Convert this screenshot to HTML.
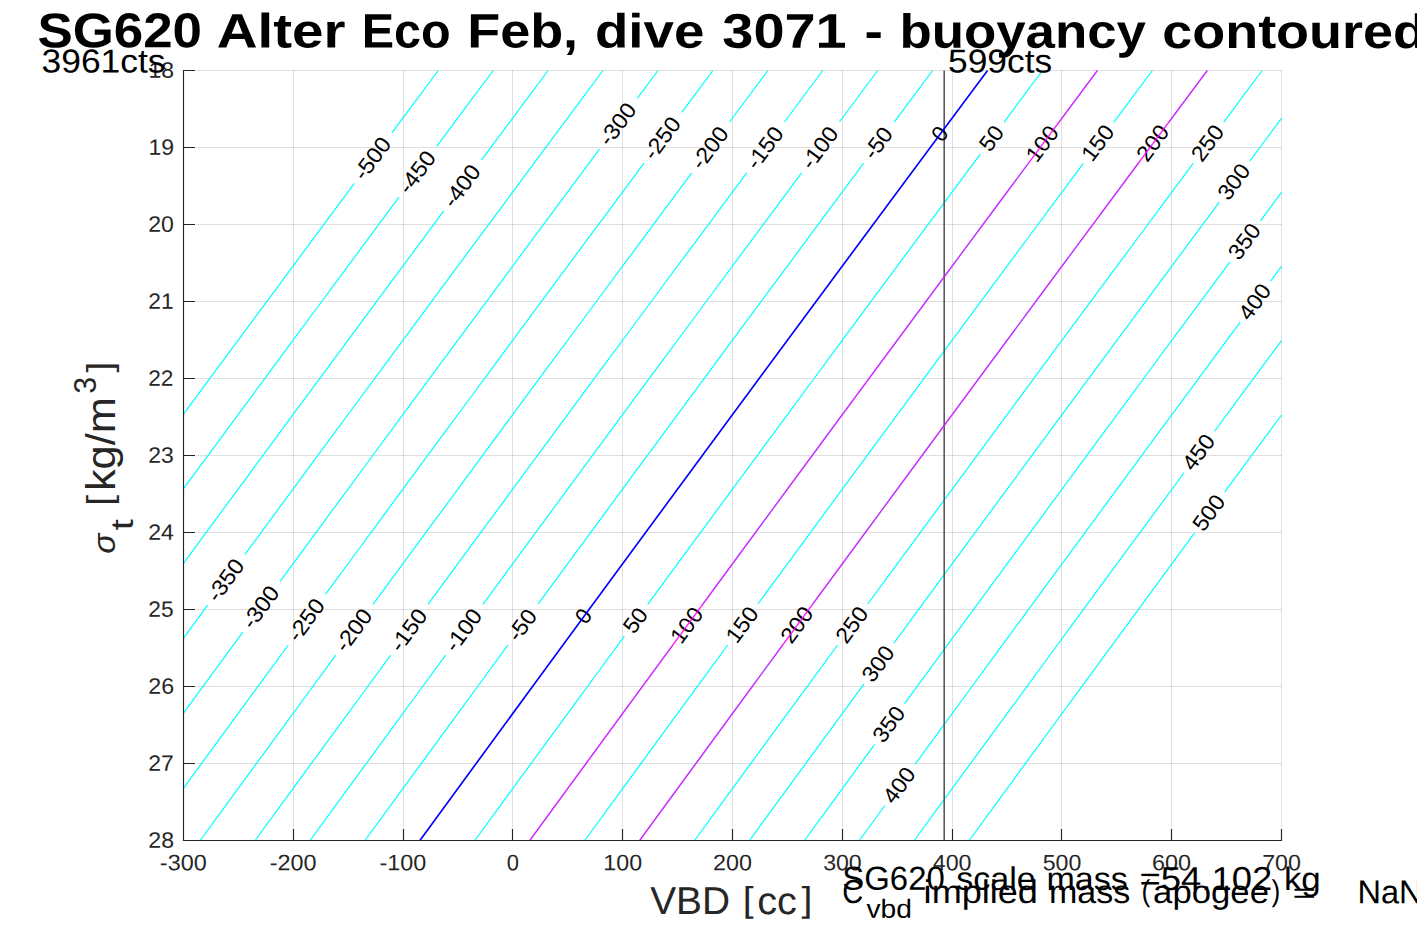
<!DOCTYPE html>
<html><head><meta charset="utf-8"><title>SG620 buoyancy contoured</title>
<style>html,body{margin:0;padding:0;background:#fff;}body{width:1417px;height:945px;overflow:hidden;font-family:"Liberation Sans", sans-serif;}svg{display:block;}</style>
</head><body>
<svg width="1417" height="945" viewBox="0 0 1417 945" font-family='"Liberation Sans", sans-serif'>
<rect width="1417" height="945" fill="#fff"/>
<path d="M293.5 70.0V828.5M403.5 70.0V828.5M512.5 70.0V828.5M622.5 70.0V828.5M732.5 70.0V828.5M842.5 70.0V828.5M952.5 70.0V828.5M1061.5 70.0V828.5M1171.5 70.0V828.5M1281.5 70.0V828.5" stroke="#262626" stroke-opacity="0.15" stroke-width="1" fill="none"/>
<path d="M196.0 70.5H1282.0M196.0 147.5H1282.0M196.0 224.5H1282.0M196.0 301.5H1282.0M196.0 378.5H1282.0M196.0 455.5H1282.0M196.0 532.5H1282.0M196.0 609.5H1282.0M196.0 686.5H1282.0M196.0 763.5H1282.0" stroke="#262626" stroke-opacity="0.15" stroke-width="1" fill="none"/>
<path d="M438.25 70.50L415.14 101.55L392.05 132.60M354.32 183.40L325.78 221.87L297.27 260.33L268.78 298.80L240.33 337.27L211.90 375.73L183.50 414.20M493.18 70.50L464.94 108.45L436.73 146.40M399.01 197.20L371.98 233.64L344.98 270.08L318.01 306.51L291.05 342.95L264.13 379.39L237.23 415.83L210.35 452.27L183.50 488.71M548.11 70.50L525.88 100.37L503.67 130.23L481.48 160.10M443.77 210.90L414.74 250.06L385.73 289.22L356.76 328.38L327.81 367.55L298.89 406.71L270.00 445.87L241.14 485.03L212.30 524.19L183.50 563.35M603.04 70.50L575.34 107.72L547.67 144.95L520.02 182.17L492.41 219.39L464.81 256.62L437.25 293.84L409.71 331.06L382.19 368.28L354.71 405.51L327.24 442.73L299.81 479.95L272.40 517.18L245.01 554.40M207.68 605.20L183.50 638.14M657.97 70.50L637.28 98.30M599.51 149.10L570.33 188.40L541.18 227.70L512.05 267.00L482.95 306.30L453.89 345.60L424.85 384.90L395.84 424.20L366.86 463.50L337.91 502.80L308.99 542.10L280.10 581.40M242.79 632.20L223.01 659.16L203.25 686.11L183.50 713.07M712.90 70.50L697.34 91.40L681.80 112.30M644.04 163.10L614.95 202.29L585.89 241.48L556.85 280.67L527.85 319.86L498.87 359.05L469.93 398.25L441.01 437.44L412.12 476.63L383.26 515.82L354.42 555.01L325.62 594.20M288.33 645.00L262.09 680.79L235.87 716.57L209.67 752.36L183.50 788.15M767.83 70.50L748.66 96.25L729.51 122.00M691.77 172.80L662.65 212.04L633.56 251.27L604.50 290.51L575.47 329.75L546.47 368.98L517.49 408.22L488.55 447.45L459.63 486.69L430.75 525.93L401.89 565.16L373.06 604.40M335.78 655.20L308.61 692.26L281.46 729.32L254.34 766.38L227.25 803.44L200.18 840.50M822.76 70.50L803.59 96.25L784.44 122.00M746.70 172.80L717.58 212.04L688.49 251.27L659.43 290.51L630.40 329.75L601.40 368.98L572.42 408.22L543.48 447.45L514.56 486.69L485.68 525.93L456.82 565.16L427.99 604.40M390.71 655.20L363.54 692.26L336.39 729.32L309.27 766.38L282.18 803.44L255.11 840.50M877.69 70.50L858.52 96.25L839.37 122.00M801.63 172.80L772.51 212.04L743.42 251.27L714.36 290.51L685.33 329.75L656.33 368.98L627.35 408.22L598.41 447.45L569.49 486.69L540.61 525.93L511.75 565.16L482.92 604.40M445.64 655.20L418.47 692.26L391.32 729.32L364.20 766.38L337.11 803.44L310.04 840.50M932.62 70.50L913.38 96.35L894.15 122.20M863.69 163.20L836.41 199.95L809.15 236.70L781.92 273.45L754.72 310.20L727.54 346.95L700.39 383.70L673.26 420.45L646.16 457.20L619.08 493.95L592.03 530.70L565.00 567.45L538.00 604.20M507.90 645.20L479.26 684.26L450.65 723.32L422.06 762.38L393.50 801.44L364.97 840.50M1042.48 70.50L1023.20 96.40L1003.94 122.30M980.31 154.10L952.45 191.62L924.61 229.15L896.80 266.67L869.02 304.20L841.26 341.73L813.53 379.25L785.83 416.77L758.15 454.30L730.50 491.82L702.88 529.35L675.28 566.87L647.71 604.40M624.36 636.20L599.39 670.25L574.44 704.30L549.50 738.35L524.59 772.40L499.70 806.45L474.83 840.50M1097.41 70.50L1077.87 96.75L1058.35 123.00M1027.88 164.00L1000.64 200.71L973.41 237.42L946.21 274.12L919.04 310.83L891.89 347.54L864.77 384.25L837.67 420.96L810.60 457.67L783.55 494.38L756.53 531.08L729.54 567.79L702.57 604.50M672.47 645.50L643.87 684.50L615.30 723.50L586.76 762.50L558.25 801.50L529.76 840.50M1152.34 70.50L1133.06 96.40L1113.80 122.30M1083.33 163.30L1056.07 200.03L1028.84 236.75L1001.62 273.48L974.44 310.20L947.28 346.93L920.14 383.65L893.03 420.38L865.95 457.10L838.89 493.82L811.86 530.55L784.85 567.27L757.86 604.00M727.77 645.00L699.10 684.10L670.45 723.20L641.84 762.30L613.25 801.40L584.69 840.50M1207.27 70.50L1187.99 96.40L1168.73 122.30M1138.26 163.30L1111.00 200.03L1083.77 236.75L1056.55 273.48L1029.37 310.20L1002.21 346.93L975.07 383.65L947.96 420.38L920.88 457.10L893.82 493.82L866.79 530.55L839.78 567.27L812.79 604.00M782.70 645.00L754.03 684.10L725.38 723.20L696.77 762.30L668.18 801.40L639.62 840.50M1262.20 70.50L1242.92 96.40L1223.66 122.30M1193.19 163.30L1165.93 200.03L1138.70 236.75L1111.48 273.48L1084.30 310.20L1057.14 346.93L1030.00 383.65L1002.89 420.38L975.81 457.10L948.75 493.82L921.72 530.55L894.71 567.27L867.72 604.00M837.63 645.00L808.96 684.10L780.31 723.20L751.70 762.30L723.11 801.40L694.55 840.50M1281.50 118.39L1265.62 139.74L1249.76 161.10M1219.32 202.10L1192.06 238.86L1164.83 275.62L1137.62 312.38L1110.44 349.13L1083.28 385.89L1056.14 422.65L1029.04 459.41L1001.96 496.17L974.90 532.92L947.87 569.68L920.86 606.44L893.88 643.20M863.81 684.20L835.19 723.28L806.59 762.35L778.02 801.42L749.48 840.50M1281.50 192.33L1260.38 220.80M1229.99 261.80L1202.73 298.62L1175.49 335.43L1148.28 372.25L1121.10 409.07L1093.94 445.88L1066.80 482.70L1039.69 519.52L1012.61 556.33L985.55 593.15L958.52 629.97L931.51 666.78L904.53 703.60M874.51 744.60L851.13 776.57L827.76 808.53L804.41 840.50M1281.50 266.42L1270.63 281.10M1240.29 322.10L1213.03 358.97L1185.80 395.83L1158.59 432.70L1131.41 469.57L1104.26 506.43L1077.13 543.30L1050.02 580.17L1022.94 617.03L995.89 653.90L968.86 690.77L941.86 727.63L914.88 764.50M884.91 805.50L859.34 840.50M1281.50 340.65L1259.12 370.93L1236.75 401.22L1214.41 431.50M1184.18 472.50L1157.08 509.30L1130.00 546.10L1102.94 582.90L1075.92 619.70L1048.91 656.50L1021.93 693.30L994.98 730.10L968.05 766.90L941.15 803.70L914.27 840.50M1281.50 415.01L1253.03 453.61L1224.60 492.20M1194.42 533.20L1166.17 571.61L1137.95 610.03L1109.76 648.44L1081.59 686.85L1053.45 725.26L1025.34 763.67L997.26 802.09L969.20 840.50" stroke="#00ffff" stroke-width="1.2" fill="none"/>
<path d="M944.2 70.50V840.50" stroke="#5a5a5a" stroke-width="1.6" fill="none"/>
<text transform="translate(378.47,162.72) rotate(-53.40)" x="-23.66" y="0.00" font-size="22.23" fill="#000" textLength="46.83" lengthAdjust="spacingAndGlyphs">-500</text>
<text transform="translate(423.15,176.52) rotate(-53.41)" x="-23.66" y="0.00" font-size="22.17" fill="#000" textLength="46.83" lengthAdjust="spacingAndGlyphs">-450</text>
<text transform="translate(467.91,190.22) rotate(-53.41)" x="-23.66" y="0.00" font-size="22.19" fill="#000" textLength="46.83" lengthAdjust="spacingAndGlyphs">-400</text>
<text transform="translate(231.65,584.49) rotate(-53.69)" x="-23.66" y="0.00" font-size="22.23" fill="#000" textLength="46.83" lengthAdjust="spacingAndGlyphs">-350</text>
<text transform="translate(623.67,128.42) rotate(-53.37)" x="-23.66" y="0.00" font-size="22.25" fill="#000" textLength="46.83" lengthAdjust="spacingAndGlyphs">-300</text>
<text transform="translate(266.75,611.49) rotate(-53.71)" x="-23.66" y="0.00" font-size="22.25" fill="#000" textLength="46.83" lengthAdjust="spacingAndGlyphs">-300</text>
<text transform="translate(668.20,142.42) rotate(-53.38)" x="-23.66" y="0.00" font-size="22.19" fill="#000" textLength="46.83" lengthAdjust="spacingAndGlyphs">-250</text>
<text transform="translate(312.28,624.29) rotate(-53.72)" x="-23.66" y="0.00" font-size="22.19" fill="#000" textLength="46.83" lengthAdjust="spacingAndGlyphs">-250</text>
<text transform="translate(715.92,152.12) rotate(-53.39)" x="-23.66" y="0.00" font-size="22.22" fill="#000" textLength="46.83" lengthAdjust="spacingAndGlyphs">-200</text>
<text transform="translate(359.72,634.49) rotate(-53.72)" x="-23.66" y="0.00" font-size="22.22" fill="#000" textLength="46.83" lengthAdjust="spacingAndGlyphs">-200</text>
<text transform="translate(770.85,152.12) rotate(-53.39)" x="-23.66" y="0.00" font-size="22.17" fill="#000" textLength="46.83" lengthAdjust="spacingAndGlyphs">-150</text>
<text transform="translate(414.65,634.49) rotate(-53.72)" x="-23.66" y="0.00" font-size="22.17" fill="#000" textLength="46.83" lengthAdjust="spacingAndGlyphs">-150</text>
<text transform="translate(825.78,152.12) rotate(-53.39)" x="-23.66" y="0.00" font-size="22.19" fill="#000" textLength="46.83" lengthAdjust="spacingAndGlyphs">-100</text>
<text transform="translate(469.58,634.49) rotate(-53.72)" x="-23.66" y="0.00" font-size="22.19" fill="#000" textLength="46.83" lengthAdjust="spacingAndGlyphs">-100</text>
<text transform="translate(884.20,147.42) rotate(-53.39)" x="-17.03" y="0.00" font-size="22.22" fill="#000" textLength="33.56" lengthAdjust="spacingAndGlyphs">-50</text>
<text transform="translate(528.26,629.39) rotate(-53.72)" x="-17.03" y="0.00" font-size="22.22" fill="#000" textLength="33.56" lengthAdjust="spacingAndGlyphs">-50</text>
<text transform="translate(945.90,138.32) rotate(-53.38)" x="-6.11" y="0.00" font-size="22.25" fill="#000" textLength="12.21" lengthAdjust="spacingAndGlyphs">0</text>
<text transform="translate(589.65,620.59) rotate(-53.71)" x="-6.11" y="0.00" font-size="22.25" fill="#000" textLength="12.21" lengthAdjust="spacingAndGlyphs">0</text>
<text transform="translate(997.41,142.92) rotate(-53.38)" x="-12.56" y="0.00" font-size="22.22" fill="#000" textLength="25.32" lengthAdjust="spacingAndGlyphs">50</text>
<text transform="translate(641.35,624.99) rotate(-53.72)" x="-12.56" y="0.00" font-size="22.22" fill="#000" textLength="25.32" lengthAdjust="spacingAndGlyphs">50</text>
<text transform="translate(1048.40,148.22) rotate(-53.39)" x="-19.36" y="0.00" font-size="22.19" fill="#000" textLength="38.76" lengthAdjust="spacingAndGlyphs">100</text>
<text transform="translate(692.83,629.69) rotate(-53.72)" x="-19.36" y="0.00" font-size="22.19" fill="#000" textLength="38.76" lengthAdjust="spacingAndGlyphs">100</text>
<text transform="translate(1103.85,147.52) rotate(-53.39)" x="-19.36" y="0.00" font-size="22.17" fill="#000" textLength="38.76" lengthAdjust="spacingAndGlyphs">150</text>
<text transform="translate(748.12,629.19) rotate(-53.72)" x="-19.36" y="0.00" font-size="22.17" fill="#000" textLength="38.76" lengthAdjust="spacingAndGlyphs">150</text>
<text transform="translate(1158.78,147.52) rotate(-53.39)" x="-19.53" y="0.00" font-size="22.22" fill="#000" textLength="38.93" lengthAdjust="spacingAndGlyphs">200</text>
<text transform="translate(803.05,629.19) rotate(-53.72)" x="-19.53" y="0.00" font-size="22.22" fill="#000" textLength="38.93" lengthAdjust="spacingAndGlyphs">200</text>
<text transform="translate(1213.71,147.52) rotate(-53.39)" x="-19.53" y="0.00" font-size="22.19" fill="#000" textLength="38.93" lengthAdjust="spacingAndGlyphs">250</text>
<text transform="translate(857.98,629.19) rotate(-53.72)" x="-19.53" y="0.00" font-size="22.19" fill="#000" textLength="38.93" lengthAdjust="spacingAndGlyphs">250</text>
<text transform="translate(1239.82,186.32) rotate(-53.41)" x="-19.17" y="0.00" font-size="22.25" fill="#000" textLength="38.57" lengthAdjust="spacingAndGlyphs">300</text>
<text transform="translate(884.16,668.38) rotate(-53.75)" x="-19.17" y="0.00" font-size="22.25" fill="#000" textLength="38.57" lengthAdjust="spacingAndGlyphs">300</text>
<text transform="translate(1250.47,246.01) rotate(-53.45)" x="-19.17" y="0.00" font-size="22.23" fill="#000" textLength="38.57" lengthAdjust="spacingAndGlyphs">350</text>
<text transform="translate(894.83,728.78) rotate(-53.79)" x="-19.17" y="0.00" font-size="22.23" fill="#000" textLength="38.57" lengthAdjust="spacingAndGlyphs">350</text>
<text transform="translate(1260.75,306.31) rotate(-53.50)" x="-19.40" y="0.00" font-size="22.19" fill="#000" textLength="38.80" lengthAdjust="spacingAndGlyphs">400</text>
<text transform="translate(905.21,789.67) rotate(-53.83)" x="-19.40" y="0.00" font-size="22.19" fill="#000" textLength="38.80" lengthAdjust="spacingAndGlyphs">400</text>
<text transform="translate(1204.59,456.70) rotate(-53.60)" x="-19.40" y="0.00" font-size="22.17" fill="#000" textLength="38.80" lengthAdjust="spacingAndGlyphs">450</text>
<text transform="translate(1214.81,517.39) rotate(-53.64)" x="-19.20" y="0.00" font-size="22.23" fill="#000" textLength="38.60" lengthAdjust="spacingAndGlyphs">500</text>
<path d="M1097.41 70.50L1068.76 109.00L1040.14 147.50L1011.55 186.00L982.99 224.50L954.45 263.00L925.95 301.50L897.47 340.00L869.02 378.50L840.59 417.00L812.20 455.50L783.83 494.00L755.49 532.50L727.18 571.00L698.89 609.50L670.64 648.00L642.41 686.50L614.21 725.00L586.03 763.50L557.88 802.00L529.76 840.50" stroke="#ff00ff" stroke-width="1.3" stroke-opacity="0.88" fill="none"/>
<path d="M1207.27 70.50L1178.62 109.00L1150.00 147.50L1121.41 186.00L1092.85 224.50L1064.31 263.00L1035.81 301.50L1007.33 340.00L978.88 378.50L950.45 417.00L922.06 455.50L893.69 494.00L865.35 532.50L837.04 571.00L808.75 609.50L780.50 648.00L752.27 686.50L724.07 725.00L695.89 763.50L667.74 802.00L639.62 840.50" stroke="#ff00ff" stroke-width="1.3" stroke-opacity="0.88" fill="none"/>
<path d="M987.55 70.50L958.90 109.00L930.28 147.50L901.69 186.00L873.13 224.50L844.59 263.00L816.09 301.50L787.61 340.00L759.16 378.50L730.73 417.00L702.34 455.50L673.97 494.00L645.63 532.50L617.32 571.00L589.03 609.50L560.78 648.00L532.55 686.50L504.35 725.00L476.17 763.50L448.02 802.00L419.90 840.50" stroke="#0000ff" stroke-width="1.65" stroke-opacity="1" fill="none"/>
<path d="M183.50 70.00V841.00M183.00 840.50H1282.00M183.5 840.5v-11.5M183.5 70.5h11.5M293.5 840.5v-11.5M183.5 147.5h11.5M403.5 840.5v-11.5M183.5 224.5h11.5M512.5 840.5v-11.5M183.5 301.5h11.5M622.5 840.5v-11.5M183.5 378.5h11.5M732.5 840.5v-11.5M183.5 455.5h11.5M842.5 840.5v-11.5M183.5 532.5h11.5M952.5 840.5v-11.5M183.5 609.5h11.5M1061.5 840.5v-11.5M183.5 686.5h11.5M1171.5 840.5v-11.5M183.5 763.5h11.5M1281.5 840.5v-11.5M183.5 840.5h11.5" stroke="#262626" stroke-width="1.15" fill="none"/>
<text transform="translate(183.50,870.20) rotate(0.03)" x="-23.66" y="0.00" font-size="22.25" fill="#262626" textLength="46.83" lengthAdjust="spacingAndGlyphs">-300</text>
<text transform="translate(174.40,77.80) rotate(0.03)" x="-25.97" y="0.00" font-size="22.16" fill="#262626" textLength="25.54" lengthAdjust="spacingAndGlyphs">18</text>
<text transform="translate(293.30,870.20) rotate(0.03)" x="-23.66" y="0.00" font-size="22.22" fill="#262626" textLength="46.83" lengthAdjust="spacingAndGlyphs">-200</text>
<text transform="translate(174.40,154.80) rotate(0.03)" x="-25.97" y="0.00" font-size="22.16" fill="#262626" textLength="25.59" lengthAdjust="spacingAndGlyphs">19</text>
<text transform="translate(403.10,870.20) rotate(0.03)" x="-23.66" y="0.00" font-size="22.19" fill="#262626" textLength="46.83" lengthAdjust="spacingAndGlyphs">-100</text>
<text transform="translate(174.40,231.80) rotate(0.03)" x="-26.14" y="0.00" font-size="22.20" fill="#262626" textLength="25.66" lengthAdjust="spacingAndGlyphs">20</text>
<text transform="translate(512.90,870.20) rotate(0.03)" x="-6.11" y="0.00" font-size="22.25" fill="#262626" textLength="12.21" lengthAdjust="spacingAndGlyphs">0</text>
<text transform="translate(174.40,308.80) rotate(0.03)" x="-26.12" y="0.00" font-size="22.11" fill="#262626" textLength="25.31" lengthAdjust="spacingAndGlyphs">21</text>
<text transform="translate(622.70,870.20) rotate(0.03)" x="-19.36" y="0.00" font-size="22.19" fill="#262626" textLength="38.76" lengthAdjust="spacingAndGlyphs">100</text>
<text transform="translate(174.40,385.80) rotate(0.03)" x="-26.12" y="0.00" font-size="22.14" fill="#262626" textLength="25.17" lengthAdjust="spacingAndGlyphs">22</text>
<text transform="translate(732.50,870.20) rotate(0.03)" x="-19.53" y="0.00" font-size="22.22" fill="#262626" textLength="38.93" lengthAdjust="spacingAndGlyphs">200</text>
<text transform="translate(174.40,462.80) rotate(0.03)" x="-26.13" y="0.00" font-size="22.20" fill="#262626" textLength="25.47" lengthAdjust="spacingAndGlyphs">23</text>
<text transform="translate(842.30,870.20) rotate(0.03)" x="-19.17" y="0.00" font-size="22.25" fill="#262626" textLength="38.57" lengthAdjust="spacingAndGlyphs">300</text>
<text transform="translate(174.40,539.80) rotate(0.03)" x="-26.14" y="0.00" font-size="22.11" fill="#262626" textLength="25.65" lengthAdjust="spacingAndGlyphs">24</text>
<text transform="translate(952.10,870.20) rotate(0.03)" x="-19.40" y="0.00" font-size="22.19" fill="#262626" textLength="38.80" lengthAdjust="spacingAndGlyphs">400</text>
<text transform="translate(174.40,616.80) rotate(0.03)" x="-26.12" y="0.00" font-size="22.16" fill="#262626" textLength="25.25" lengthAdjust="spacingAndGlyphs">25</text>
<text transform="translate(1061.90,870.20) rotate(0.03)" x="-19.20" y="0.00" font-size="22.23" fill="#262626" textLength="38.60" lengthAdjust="spacingAndGlyphs">500</text>
<text transform="translate(174.40,693.80) rotate(0.03)" x="-26.15" y="0.00" font-size="22.20" fill="#262626" textLength="25.86" lengthAdjust="spacingAndGlyphs">26</text>
<text transform="translate(1171.70,870.20) rotate(0.03)" x="-19.61" y="0.00" font-size="22.25" fill="#262626" textLength="39.02" lengthAdjust="spacingAndGlyphs">600</text>
<text transform="translate(174.40,770.80) rotate(0.03)" x="-26.13" y="0.00" font-size="22.11" fill="#262626" textLength="25.51" lengthAdjust="spacingAndGlyphs">27</text>
<text transform="translate(1281.50,870.20) rotate(0.03)" x="-19.36" y="0.00" font-size="22.19" fill="#262626" textLength="38.76" lengthAdjust="spacingAndGlyphs">700</text>
<text transform="translate(174.40,847.80) rotate(0.03)" x="-26.14" y="0.00" font-size="22.20" fill="#262626" textLength="25.72" lengthAdjust="spacingAndGlyphs">28</text>
<text transform="translate(35.70,47.30) rotate(0.03)" x="1.77" y="0.00" font-size="48.90" fill="#000" font-weight="bold" textLength="164.50" lengthAdjust="spacingAndGlyphs">SG620</text>
<text transform="translate(35.70,47.30) rotate(0.03)" x="181.06" y="0.00" font-size="48.20" fill="#000" font-weight="bold" textLength="128.67" lengthAdjust="spacingAndGlyphs">Alter</text>
<text transform="translate(35.70,47.30) rotate(0.03)" x="325.94" y="0.00" font-size="48.21" fill="#000" font-weight="bold" textLength="88.92" lengthAdjust="spacingAndGlyphs">Eco</text>
<text transform="translate(35.70,47.30) rotate(0.03)" x="431.48" y="0.00" font-size="48.30" fill="#000" font-weight="bold" textLength="110.94" lengthAdjust="spacingAndGlyphs">Feb,</text>
<text transform="translate(35.70,47.30) rotate(0.03)" x="559.27" y="0.00" font-size="47.96" fill="#000" font-weight="bold" textLength="109.31" lengthAdjust="spacingAndGlyphs">dive</text>
<text transform="translate(35.70,47.30) rotate(0.03)" x="686.66" y="0.00" font-size="48.74" fill="#000" font-weight="bold" textLength="124.17" lengthAdjust="spacingAndGlyphs">3071</text>
<text transform="translate(35.70,47.30) rotate(0.03)" x="828.71" y="0.00" font-size="48.58" fill="#000" font-weight="bold" textLength="18.43" lengthAdjust="spacingAndGlyphs">-</text>
<text transform="translate(35.70,47.30) rotate(0.03)" x="863.73" y="0.00" font-size="47.86" fill="#000" font-weight="bold" textLength="246.48" lengthAdjust="spacingAndGlyphs">buoyancy</text>
<text transform="translate(35.70,47.30) rotate(0.03)" x="1126.57" y="0.00" font-size="48.02" fill="#000" font-weight="bold" textLength="263.63" lengthAdjust="spacingAndGlyphs">contoured</text>
<text transform="translate(40.56,72.50) rotate(0.03)" x="1.03" y="0.00" font-size="33.20" fill="#000" textLength="123.96" lengthAdjust="spacingAndGlyphs">3961cts</text>
<text transform="translate(947.00,72.50) rotate(0.03)" x="1.00" y="0.00" font-size="33.20" fill="#000" textLength="104.12" lengthAdjust="spacingAndGlyphs">599cts</text>
<text transform="translate(731.40,914.00) rotate(0.03)" x="-81.23" y="0.00" font-size="38.89" fill="#262626" textLength="79.79" lengthAdjust="spacingAndGlyphs">VBD</text>
<text transform="translate(731.40,914.00) rotate(0.03)" x="11.28" y="-2.45" font-size="35.10" fill="#262626" textLength="10.86" lengthAdjust="spacingAndGlyphs">[</text>
<text transform="translate(731.40,914.00) rotate(0.03)" x="25.86" y="0.00" font-size="38.47" fill="#262626" textLength="39.57" lengthAdjust="spacingAndGlyphs">cc</text>
<text transform="translate(731.40,914.00) rotate(0.03)" x="70.06" y="-2.45" font-size="35.10" fill="#262626" textLength="10.86" lengthAdjust="spacingAndGlyphs">]</text>
<text transform="translate(115.00,554.30) rotate(-90.00)" x="0.46" y="0.00" font-size="31.31" fill="#262626" font-style="italic" textLength="20.24" lengthAdjust="spacingAndGlyphs">σ</text>
<text transform="translate(133.10,530.40) rotate(-90.00)" x="0.20" y="0.00" font-size="32.19" fill="#262626" textLength="11.14" lengthAdjust="spacingAndGlyphs">t</text>
<text transform="translate(114.70,506.20) rotate(-90.00)" x="0.44" y="-2.50" font-size="35.87" fill="#262626" textLength="10.85" lengthAdjust="spacingAndGlyphs">[</text>
<text transform="translate(114.70,506.20) rotate(-90.00)" x="15.12" y="0.00" font-size="39.75" fill="#262626" textLength="93.87" lengthAdjust="spacingAndGlyphs">kg/m</text>
<text transform="translate(95.70,395.00) rotate(-90.00)" x="1.13" y="0.00" font-size="32.05" fill="#262626" textLength="16.89" lengthAdjust="spacingAndGlyphs">3</text>
<text transform="translate(114.70,375.90) rotate(-90.00)" x="3.34" y="-2.50" font-size="35.87" fill="#262626" textLength="10.85" lengthAdjust="spacingAndGlyphs">]</text>
<text transform="translate(841.80,889.80) rotate(0.03)" x="0.57" y="0.00" font-size="33.35" fill="#000" textLength="102.34" lengthAdjust="spacingAndGlyphs">SG620</text>
<text transform="translate(841.80,889.80) rotate(0.03)" x="114.38" y="0.00" font-size="32.77" fill="#000" textLength="79.63" lengthAdjust="spacingAndGlyphs">scale</text>
<text transform="translate(841.80,889.80) rotate(0.03)" x="204.67" y="0.00" font-size="32.74" fill="#000" textLength="81.28" lengthAdjust="spacingAndGlyphs">mass</text>
<text transform="translate(841.80,889.80) rotate(0.03)" x="297.71" y="0.00" font-size="33.22" fill="#000" textLength="132.70" lengthAdjust="spacingAndGlyphs">=54.102</text>
<text transform="translate(841.80,889.80) rotate(0.03)" x="442.12" y="0.00" font-size="32.51" fill="#000" textLength="36.86" lengthAdjust="spacingAndGlyphs">kg</text>
<text transform="translate(842.10,902.90) rotate(0.03)" x="0.28" y="0.00" font-size="33.38" fill="#000" textLength="20.95" lengthAdjust="spacingAndGlyphs">C</text>
<text transform="translate(865.85,917.80) rotate(0.03)" x="0.65" y="0.00" font-size="26.19" fill="#000" textLength="45.43" lengthAdjust="spacingAndGlyphs">vbd</text>
<text transform="translate(923.10,902.90) rotate(0.03)" x="0.53" y="0.00" font-size="32.67" fill="#000" textLength="114.34" lengthAdjust="spacingAndGlyphs">implied</text>
<text transform="translate(923.10,902.90) rotate(0.03)" x="125.90" y="0.00" font-size="32.74" fill="#000" textLength="81.28" lengthAdjust="spacingAndGlyphs">mass</text>
<text transform="translate(923.10,902.90) rotate(0.03)" x="218.45" y="-2.07" font-size="29.87" fill="#000" textLength="8.80" lengthAdjust="spacingAndGlyphs">(</text>
<text transform="translate(923.10,902.90) rotate(0.03)" x="230.00" y="0.00" font-size="32.58" fill="#000" textLength="115.87" lengthAdjust="spacingAndGlyphs">apogee</text>
<text transform="translate(923.10,902.90) rotate(0.03)" x="348.34" y="-2.07" font-size="29.87" fill="#000" textLength="8.80" lengthAdjust="spacingAndGlyphs">)</text>
<text transform="translate(923.10,902.90) rotate(0.03)" x="369.46" y="-0.77" font-size="27.37" fill="#000" textLength="23.51" lengthAdjust="spacingAndGlyphs">=</text>
<text transform="translate(923.10,902.90) rotate(0.03)" x="434.43" y="0.00" font-size="32.99" fill="#000" textLength="65.09" lengthAdjust="spacingAndGlyphs">NaN</text>
</svg>
</body></html>
